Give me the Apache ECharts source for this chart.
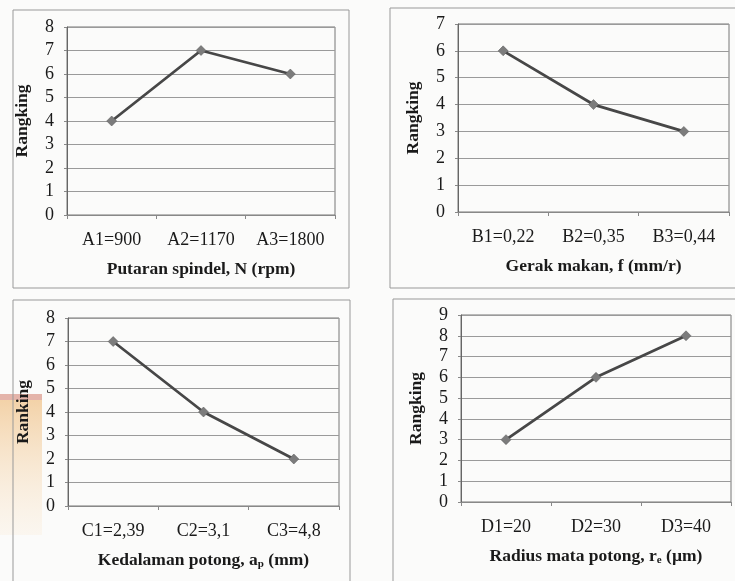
<!DOCTYPE html>
<html>
<head>
<meta charset="utf-8">
<script src="https://cdn.jsdelivr.net/npm/echarts@6/dist/echarts.min.js"></script>
<style>
  html, body { margin: 0; padding: 0; background: #fbfbfa; }
  #chart { width: 735px; height: 581px; }
</style>
</head>
<body>
<div id="chart"></div>
<script>
// data per panel
const catA = ['A1=900', 'A2=1170', 'A3=1800'];
const rankA = [4, 7, 6];
const catB = ['B1=0,22', 'B2=0,35', 'B3=0,44'];
const rankB = [6, 4, 3];
const catC = ['C1=2,39', 'C2=3,1', 'C3=4,8'];
const rankC = [7, 4, 2];
const catD = ['D1=20', 'D2=30', 'D3=40'];
const rankD = [3, 6, 8];
const yMax = [8, 7, 8, 9];
const xNames = [
  'Putaran spindel, N (rpm)',
  'Gerak makan, f (mm/r)',
  'Kedalaman potong, a{sub|p} (mm)',
  'Radius mata potong, r{sub|e} (\u00b5m)'
];
const yNames = ['Rangking', 'Rangking', 'Ranking', 'Rangking'];

const cats = [catA, catB, catC, catD];
const ranks = [rankA, rankB, rankC, rankD];

const chart = echarts.init(document.getElementById('chart'));
const serif = "'Liberation Serif', 'Times New Roman', serif";

// plot areas (px)
const grids = [
  { left: 67, top: 27, width: 268, height: 188 },
  { left: 458, top: 24, width: 271, height: 188 },
  { left: 68, top: 318, width: 271, height: 188 },
  { left: 461, top: 315, width: 270, height: 187 }
];

const option = {
  backgroundColor: '#fbfbfa',
  animation: false,
  grid: grids.map(g => Object.assign({ show: true, borderColor: '#777', borderWidth: 1, backgroundColor: 'transparent' }, g)),
  xAxis: cats.map((c, i) => ({
    type: 'category', gridIndex: i, data: c, boundaryGap: true,
    name: xNames[i], nameLocation: 'middle', nameGap: 45,
    nameTextStyle: {
      fontFamily: serif, fontSize: 17.5, fontWeight: 'bold', color: '#1a1a1a',
      rich: { sub: { fontFamily: serif, fontSize: 11, fontWeight: 'bold', color: '#1a1a1a', verticalAlign: 'bottom', padding: [8, 0, 0, 0] } }
    },
    axisLine: { lineStyle: { color: '#888', width: 1 } },
    axisTick: { show: true, length: 4, lineStyle: { color: '#888' } },
    axisLabel: { fontFamily: serif, fontSize: 18, color: '#1a1a1a', margin: 16 }
  })),
  yAxis: yMax.map((m, i) => ({
    type: 'value', gridIndex: i, min: 0, max: m, interval: 1,
    name: yNames[i], nameLocation: 'middle', nameGap: 36, nameRotate: 90,
    nameTextStyle: { fontFamily: serif, fontSize: 17.5, fontWeight: 'bold', color: '#1a1a1a' },
    axisLine: { show: true, lineStyle: { color: '#666', width: 1 } },
    axisTick: { show: true, length: 3, lineStyle: { color: '#888' } },
    axisLabel: { fontFamily: serif, fontSize: 18, color: '#1a1a1a', margin: 13 },
    splitLine: { lineStyle: { color: '#9a9a9a', width: 1 } }
  })),
  graphic: [
    // scan watermark at bottom left
    { type: 'rect', shape: { x: 0, y: 394, width: 42, height: 6 }, style: { fill: '#e4b4aa' }, z: -10 },
    { type: 'rect', shape: { x: 0, y: 400, width: 42, height: 135 },
      style: { fill: new echarts.graphic.LinearGradient(0, 0, 0, 1, [
        { offset: 0, color: '#f3d2a8' }, { offset: 1, color: 'rgba(250,235,215,0.3)' }
      ]) }, z: -10 },
    // panel frames
    { type: 'rect', shape: { x: 13, y: 10, width: 336, height: 278 }, style: { fill: 'none', stroke: '#999', lineWidth: 1 } },
    { type: 'rect', shape: { x: 390, y: 8, width: 350, height: 280 }, style: { fill: 'none', stroke: '#999', lineWidth: 1 } },
    { type: 'rect', shape: { x: 13, y: 300, width: 337, height: 290 }, style: { fill: 'none', stroke: '#999', lineWidth: 1 } },
    { type: 'rect', shape: { x: 393, y: 299, width: 350, height: 290 }, style: { fill: 'none', stroke: '#999', lineWidth: 1 } }
  ],
  series: ranks.map((r, i) => ({
    type: 'line', xAxisIndex: i, yAxisIndex: i, data: r,
    symbol: 'diamond', symbolSize: 10,
    lineStyle: { color: '#474747', width: 2.8 },
    itemStyle: { color: '#7c7c7c', borderColor: '#555', borderWidth: 0.5 }
  }))
};

chart.setOption(option);
</script>
</body>
</html>
